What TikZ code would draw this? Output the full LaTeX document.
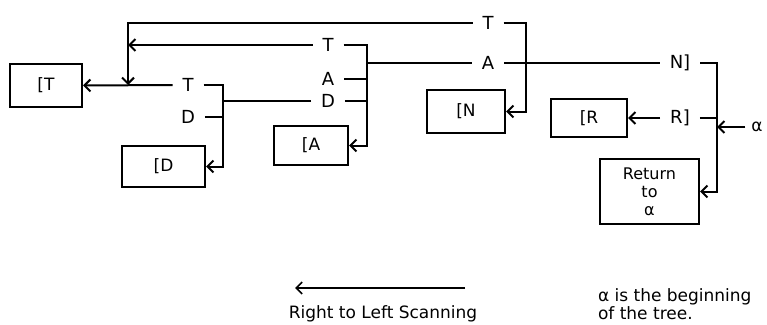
\documentclass[tikz,border=0pt]{standalone}
\usepackage{fontspec}
\setmainfont{DejaVu Sans}
\usetikzlibrary{calc,positioning,arrows.meta}

\begin{document}
\begin{tikzpicture}[x=1pt,y=-1pt,>={Straight Barb[length=6pt,width=12pt]},
  line width=2pt,font=\fontsize{17}{18}\selectfont,
  box/.style={draw,line width=2pt,inner sep=2pt},
  lbl/.style={inner xsep=9pt,inner ysep=1pt,font=\fontsize{18}{18}\selectfont}]
\useasboundingbox (0,0) rectangle (767,324);
% boxes
\node[box,minimum width=72pt,minimum height=43pt] (bT) at (46,85.5) {[T};
\node[box,minimum width=83pt,minimum height=41pt] (bD) at (163.5,166.5) {[D};
\node[box,minimum width=74pt,minimum height=39pt] (bA) at (311,145.5) {[A};
\node[box,minimum width=78pt,minimum height=43pt] (bN) at (466,111.5) {[N};
\node[box,minimum width=76pt,minimum height=38pt] (bR) at (589,118) {[R};
\node[box,minimum width=99pt,minimum height=65pt,align=center,font=\fontsize{16}{18}\selectfont] (bRet) at (649.5,191.5) {Return\\to\\α};
% branch labels
\node[lbl] (tT) at (488,23) {T};
\node[lbl] (tA) at (488,63) {A};
\node[lbl] (mT) at (328,45) {T};
\node[lbl] (mA) at (328,79) {A};
\node[lbl] (mD) at (328,101) {D};
\node[lbl] (lT) at (188,85) {T};
\node[lbl] (lD) at (188,117) {D};
\node[lbl] (nN) at (680,63) {N]};
\node[lbl] (nR) at (680,118) {R]};
\node[inner xsep=5pt] (alpha) at (757,127) {α};
% junctions
\coordinate (c1) at (717,127);
\coordinate (c2) at (526,112);
\coordinate (c3) at (128,85);
\coordinate (c4) at (367,63);
\coordinate (c5) at (223,101);
% right node
\draw[->] (alpha.west) -- (c1);
\draw[->] (nN.east) -| (c1 |- bRet.east) -- (bRet.east);
\draw (nR.east) -- (nR.east -| c1);
\draw[->] (nR.west) -- (bR.east);
\draw (tA.east) -- (nN.west);
% N node
\draw[->] (tT.east) -| (c2 |- bN.east) -- (bN.east);
\draw[->] (tT.west) -| (c3);
% A node
\draw (tA.west) -- (c4);
\draw[->] (mT.east) -| (c4 |- bA.east) -- (bA.east);
\draw (mA.east) -- (mA.east -| c4);
\draw (mD.east) -- (mD.east -| c4);
\draw[->] (mT.west) -- (mT.west -| c3);
% D node
\draw (mD.west) -- (c5);
\draw[->] (lT.east) -| (c5 |- bD.east) -- (bD.east);
\draw (lD.east) -- (lD.east -| c5);
\draw[->] (lT.west) -- (bT.east);
% notes
\coordinate (sR) at (465,288);
\coordinate (sL) at (295,288);
\draw[->,line width=1.6pt] (sR) -- (sL);
\node (scan) at (383,314) {Right to Left Scanning};
\node[anchor=west,align=left,inner sep=0pt,font=\fontsize{17}{15}\selectfont] (note) at (597,304) {α is the beginning\\of the tree.};
\end{tikzpicture}
\end{document}
